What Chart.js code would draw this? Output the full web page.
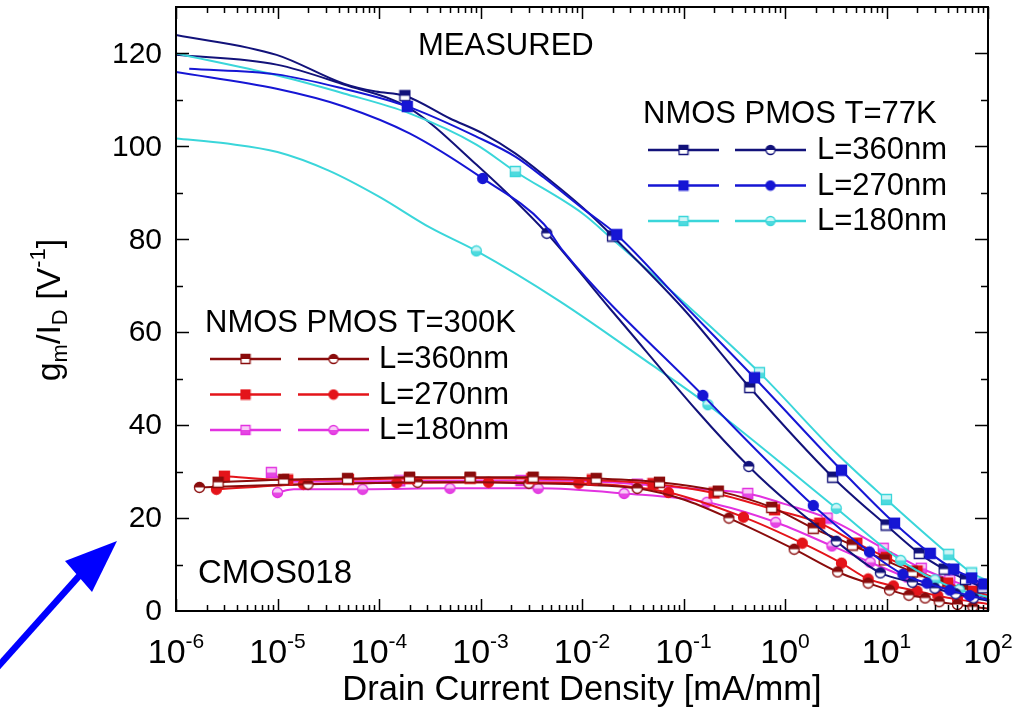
<!DOCTYPE html>
<html><head><meta charset="utf-8">
<script src="https://cdn.jsdelivr.net/npm/chart.js@4.4.1/dist/chart.umd.min.js"></script>
<style>html,body{margin:0;padding:0;background:#fff;}#wrap{width:1020px;height:718px;position:relative;}</style>
</head><body><div id="wrap"><canvas id="c" width="1020" height="718"></canvas></div>
<script>
// ---------- data ----------
// 77 K, NMOS
const n77_360_x = [1e-6, 9.8e-6, 4.5e-5, 9.3e-5, 1.8e-4, 5.0e-4, 1.05e-3, 2.2e-3, 4.2e-3, 0.0102, 0.020, 0.10, 0.45, 2.95, 9.9, 21, 37, 60, 89, 100];
const n77_360_y = [124, 119.7, 113.5, 111.8, 110.9, 106, 102.8, 98.5, 93.8, 86.8, 80.7, 65, 48.1, 28.8, 18.5, 12.4, 9.0, 6.8, 5.0, 4.5];
const n77_360_m = [4, 10, 12, 13, 14, 15, 16, 17, 18];
const n77_270_x = [1.35e-6, 9.8e-6, 4.5e-5, 1.9e-4, 9.1e-4, 2.2e-3, 4.2e-3, 0.0102, 0.022, 0.10, 0.50, 3.6, 12, 27, 46, 69, 91, 100];
const n77_270_y = [116.7, 115.5, 112.4, 108.6, 102.1, 97.8, 93.3, 86.6, 81, 66, 50.2, 30.3, 18.9, 12.4, 9.0, 7.1, 5.8, 5.5];
const n77_270_m = [3, 8, 10, 11, 12, 13, 14, 15, 16];
const n77_180_x = [1e-6, 9.8e-6, 4.5e-5, 2.0e-4, 9.1e-4, 2.2e-3, 0.0102, 0.020, 0.10, 0.56, 3.2, 10, 41, 69, 100];
const n77_180_y = [120, 115.3, 111.4, 107.1, 100.4, 94.6, 85.5, 80.0, 66.5, 51.3, 34, 24.0, 12.2, 8.2, 6.5];
const n77_180_m = [5, 9, 11, 12, 13];
// 77 K, PMOS
const p77_360_x = [1e-6, 9.8e-6, 4.5e-5, 2.0e-4, 9.1e-4, 4.5e-3, 0.019, 0.44, 3.2, 8.7, 18, 30, 48, 72, 100];
const p77_360_y = [119.7, 117.6, 113.3, 108.2, 96.1, 81.3, 65, 31.1, 15.0, 8.2, 6.2, 4.9, 3.7, 2.8, 2.2];
const p77_360_m = [5, 7, 8, 9, 10, 11, 12, 13];
const p77_270_x = [1e-6, 9.8e-6, 4.5e-5, 2.0e-4, 1.05e-3, 4.2e-3, 6.5e-3, 0.155, 1.9, 6.8, 14.5, 25, 42, 66, 100];
const p77_270_y = [116, 112.4, 108.6, 102.8, 93.1, 83.3, 77.5, 46.4, 22.7, 12.7, 7.9, 6.0, 4.5, 3.3, 2.5];
const p77_270_m = [4, 7, 8, 9, 10, 11, 12, 13];
const p77_180_x = [1e-6, 3.2e-6, 1.0e-5, 3.2e-5, 1.0e-4, 3.2e-4, 9.1e-4, 6.0e-3, 0.050, 0.174, 3.2, 13.8, 30, 52, 100];
const p77_180_y = [101.7, 100.6, 98.8, 94.8, 89.2, 82.5, 77.5, 66.7, 52.8, 44.4, 22.1, 10.9, 6.7, 4.6, 3.0];
const p77_180_m = [6, 9, 10, 11, 12, 13];
// 300 K, NMOS
const n300_360_x = [2.6e-6, 1.15e-5, 4.9e-5, 2.0e-4, 7.9e-4, 3.3e-3, 0.0138, 0.058, 0.22, 0.74, 1.9, 4.6, 9.5, 18, 32, 56, 100];
const n300_360_y = [27.7, 28.3, 28.5, 28.8, 28.8, 28.8, 28.5, 27.7, 25.8, 22.3, 17.8, 14.2, 11.0, 8.4, 6.2, 4.5, 2.8];
const n300_360_m = [0, 1, 2, 3, 4, 5, 6, 7, 8, 9, 10, 11, 12, 13, 14, 15];
const n300_270_x = [3.0e-6, 1.26e-5, 5.0e-5, 2.0e-4, 7.9e-4, 3.2e-3, 0.0126, 0.050, 0.20, 0.79, 2.2, 5.1, 10, 20, 40, 71, 100];
const n300_270_y = [29.0, 28.2, 28.3, 28.5, 28.6, 28.5, 28.2, 27.4, 25.4, 21.8, 18.9, 14.6, 11.5, 8.6, 6.0, 4.2, 3.4];
const n300_270_m = [0, 1, 2, 3, 4, 5, 6, 7, 8, 9, 10, 11, 12, 13, 14, 15];
const n300_180_x = [8.7e-6, 1.26e-5, 1.0e-4, 1.6e-4, 1.0e-3, 2.5e-3, 0.01, 0.035, 0.126, 0.43, 1.0, 2.6, 9.3, 22, 42, 71, 100];
const n300_180_y = [29.8, 27.8, 27.9, 28.0, 28.1, 28.1, 28.0, 27.3, 26.3, 25.3, 23.0, 20.0, 13.5, 9.2, 6.7, 5.0, 4.2];
const n300_180_m = [0, 3, 5, 7, 9, 11, 12, 13, 14, 15];
// 300 K, PMOS
const p300_360_x = [1.7e-6, 6.3e-6, 2.0e-5, 6.3e-5, 2.4e-4, 1.0e-3, 3.0e-3, 0.01, 0.035, 0.1, 0.28, 1.23, 3.3, 6.6, 10.7, 16.6, 24, 33, 50, 71, 100];
const p300_360_y = [26.6, 27.0, 27.3, 27.5, 27.7, 27.7, 27.5, 27.2, 26.4, 24.0, 20.0, 13.3, 8.4, 6.0, 4.5, 3.4, 2.8, 2.0, 1.4, 0.9, 0.5];
const p300_360_m = [0, 2, 4, 6, 8, 10, 11, 12, 13, 14, 15, 16, 17, 18, 19];
const p300_270_x = [2.5e-6, 1.8e-5, 1.5e-4, 1.2e-3, 9.3e-3, 0.071, 0.39, 1.48, 3.6, 6.6, 11.7, 20, 32, 50, 100];
const p300_270_y = [26.2, 27.3, 27.6, 27.7, 27.5, 25.5, 20.2, 14.6, 10.3, 6.9, 5.4, 4.3, 3.3, 2.5, 1.5];
const p300_270_m = [0, 1, 2, 3, 4, 5, 6, 7, 8, 9, 10, 11, 12, 13];
const p300_180_x = [1.0e-5, 1.45e-5, 6.9e-5, 5.0e-4, 3.7e-3, 0.026, 0.17, 0.81, 2.9, 6.9, 15.8, 32, 56, 100];
const p300_180_y = [25.5, 26.2, 26.2, 26.4, 26.4, 25.3, 23.4, 19.1, 14.0, 10.5, 7.3, 5.4, 4.0, 3.0];
const p300_180_m = [0, 2, 3, 4, 5, 6, 7, 8, 9, 10, 11, 12];

// axes
const xMin = 1e-6, xMax = 1e2;
const yMin = 0, yMax = 130;
const yTickLabels = [0, 20, 40, 60, 80, 100, 120];
const xTickExponents = [-6, -5, -4, -3, -2, -1, 0, 1, 2];
const lengthLabels = ['L=360nm', 'L=270nm', 'L=180nm'];

// ---------- styles ----------
const COL = {navy:'#12127a', blue:'#1616d4', cyan:'#3ad6da', dred:'#8a0c0c', red:'#e4141a', mag:'#e232e0'};
const FONT = '"Liberation Sans", Arial, sans-serif';

function tint(hex, f){
  const n = parseInt(hex.slice(1),16);
  const r=(n>>16)&255,g=(n>>8)&255,b=n&255;
  const m=v=>Math.round(v+(255-v)*f);
  return `rgb(${m(r)},${m(g)},${m(b)})`;
}
function makeMarker(shape, color, kind, s){
  const c = document.createElement('canvas');
  c.width = c.height = s + 2;
  const g = c.getContext('2d');
  const h = (s + 2) / 2;
  const path = () => { g.beginPath(); if (shape === 'sq') g.rect(1.5, 1.5, s - 1, s - 1); else g.arc(h, h, (s - 1) / 2, 0, Math.PI * 2); };
  path();
  g.fillStyle = kind === 'fill' ? color : (kind === 'light' ? tint(color, 0.75) : '#ffffff');
  g.fill();
  if (kind === 'half' || kind === 'light') {
    g.save(); path(); g.clip();
    g.fillStyle = kind === 'half' ? color : tint(color, 0.1);
    if (kind === 'half') g.fillRect(0, 0, s + 2, h); else g.fillRect(0, h, s + 2, h);
    g.restore();
  }
  path(); g.lineWidth = 1.3; g.strokeStyle = color; g.stroke();
  return c;
}

const series = [
  // order: first is drawn on top
  {x:n77_270_x, y:n77_270_y, m:n77_270_m, col:COL.blue, shape:'sq', kind:'fill'},
  {x:n77_360_x, y:n77_360_y, m:n77_360_m, col:COL.navy, shape:'sq', kind:'half'},
  {x:n77_180_x, y:n77_180_y, m:n77_180_m, col:COL.cyan, shape:'sq', kind:'light'},
  {x:p77_270_x, y:p77_270_y, m:p77_270_m, col:COL.blue, shape:'ci', kind:'fill'},
  {x:p77_360_x, y:p77_360_y, m:p77_360_m, col:COL.navy, shape:'ci', kind:'half'},
  {x:p77_180_x, y:p77_180_y, m:p77_180_m, col:COL.cyan, shape:'ci', kind:'light'},
  {x:n300_360_x, y:n300_360_y, m:n300_360_m, col:COL.dred, shape:'sq', kind:'half'},
  {x:n300_270_x, y:n300_270_y, m:n300_270_m, col:COL.red, shape:'sq', kind:'fill'},
  {x:p300_360_x, y:p300_360_y, m:p300_360_m, col:COL.dred, shape:'ci', kind:'half'},
  {x:p300_270_x, y:p300_270_y, m:p300_270_m, col:COL.red, shape:'ci', kind:'fill'},
  {x:n300_180_x, y:n300_180_y, m:n300_180_m, col:COL.mag, shape:'sq', kind:'light'},
  {x:p300_180_x, y:p300_180_y, m:p300_180_m, col:COL.mag, shape:'ci', kind:'light'},
];

const datasets = series.map(s => {
  const img = makeMarker(s.shape, s.col, s.kind, s.shape === 'sq' ? 11 : 11);
  return {
    data: s.x.map((v, i) => ({x: v, y: s.y[i]})),
    borderColor: s.col,
    backgroundColor: s.col,
    borderWidth: 2,
    fill: false,
    cubicInterpolationMode: 'monotone',
    pointStyle: img,
    pointRadius: ctx => s.m.includes(ctx.dataIndex) ? 5 : 0,
    pointHoverRadius: 0,
  };
});

function legMarker(shape, col, kind){ return makeMarker(shape, col, kind, 10); }

function supText(ctx, parts, x, y){
  let cx = x;
  for (const p of parts){
    ctx.font = p.size + 'px ' + FONT;
    ctx.fillText(p.t, cx, y + (p.dy || 0));
    cx += ctx.measureText(p.t).width;
  }
  return cx - x;
}
function partsWidth(ctx, parts){
  let w = 0;
  for (const p of parts){ ctx.font = p.size + 'px ' + FONT; w += ctx.measureText(p.t).width; }
  return w;
}

const deco = {
  id: 'deco',
  afterDraw(chart){
    const ctx = chart.ctx;
    const a = chart.chartArea;
    const xs = chart.scales.x, ys = chart.scales.y;
    ctx.save();
    ctx.strokeStyle = '#000'; ctx.fillStyle = '#000';
    // frame
    ctx.lineWidth = 2;
    ctx.strokeRect(a.left, a.top, a.right - a.left, a.bottom - a.top);
    // y ticks
    ctx.lineWidth = 1.5;
    for (let v = yMin + 10; v < yMax; v += 10){
      const py = Math.round(ys.getPixelForValue(v)) + 0.5;
      const len = (v % 20 === 0) ? 13 : 7;
      ctx.beginPath();
      ctx.moveTo(a.left, py); ctx.lineTo(a.left + len, py);
      ctx.moveTo(a.right, py); ctx.lineTo(a.right - len, py);
      ctx.stroke();
    }
    // x ticks
    for (let e = -6; e <= 2; e++){
      for (let k = 1; k <= 9; k++){
        const v = k * Math.pow(10, e);
        if (v < xMin * 0.999 || v > xMax * 1.001) continue;
        const px = Math.round(xs.getPixelForValue(v)) + 0.5;
        const len = k === 1 ? 12 : 6;
        ctx.beginPath();
        ctx.moveTo(px, a.bottom); ctx.lineTo(px, a.bottom - len);
        ctx.moveTo(px, a.top); ctx.lineTo(px, a.top + len);
        ctx.stroke();
      }
    }
    // y tick labels
    ctx.textBaseline = 'middle'; ctx.textAlign = 'right';
    ctx.font = '30px ' + FONT;
    for (const v of yTickLabels){
      ctx.fillText(String(v), a.left - 14, ys.getPixelForValue(v) + 1);
    }
    // x tick labels
    ctx.textBaseline = 'alphabetic'; ctx.textAlign = 'left';
    for (const e of xTickExponents){
      const px = xs.getPixelForValue(Math.pow(10, e));
      const parts = [{t:'10', size:34}, {t:String(e), size:21, dy:-15}];
      const w = partsWidth(ctx, parts);
      supText(ctx, parts, px - w / 2, 663);
    }
    // x title
    ctx.font = '34.5px ' + FONT; ctx.textAlign = 'center';
    ctx.fillText('Drain Current Density [mA/mm]', (a.left + a.right) / 2, 700);
    // y title
    ctx.save();
    ctx.translate(60, 310); ctx.rotate(-Math.PI / 2);
    ctx.textAlign = 'left';
    const yparts = [{t:'g', size:34}, {t:'m', size:22, dy:7}, {t:'/I', size:34}, {t:'D', size:22, dy:7}, {t:' [V', size:34}, {t:'-1', size:22, dy:-15}, {t:']', size:34}];
    const yw = partsWidth(ctx, yparts);
    supText(ctx, yparts, -yw / 2, 0);
    ctx.restore();

    // annotations
    ctx.textAlign = 'left'; ctx.font = '31px ' + FONT;
    ctx.fillText('MEASURED', 418, 55);
    ctx.fillText('NMOS PMOS T=77K', 643, 123);
    ctx.fillText('NMOS PMOS T=300K', 205, 332);
    ctx.font = '33px ' + FONT;
    ctx.fillText('CMOS018', 198, 583);

    // legends
    const legend = (rows, x1, x2, x3, y0, dy) => {
      rows.forEach((r, i) => {
        const y = y0 + i * dy;
        ctx.lineWidth = 2.5;
        ctx.strokeStyle = r.col;
        ctx.beginPath();
        ctx.moveTo(x1, y); ctx.lineTo(x1 + 71, y);
        ctx.moveTo(x2, y); ctx.lineTo(x2 + 71, y);
        ctx.stroke();
        const sq = legMarker('sq', r.col, r.kind), ci = legMarker('ci', r.col, r.kind);
        ctx.drawImage(sq, x1 + 35.5 - sq.width / 2, y - sq.height / 2);
        ctx.drawImage(ci, x2 + 35.5 - ci.width / 2, y - ci.height / 2);
        ctx.fillStyle = '#000';
        ctx.font = '31px ' + FONT;
        ctx.fillText(lengthLabels[i], x3, y + 9);
      });
    };
    legend([{col:COL.navy, kind:'half'}, {col:COL.blue, kind:'fill'}, {col:COL.cyan, kind:'light'}], 648, 735, 817, 150, 35.5);
    legend([{col:COL.dred, kind:'half'}, {col:COL.red, kind:'fill'}, {col:COL.mag, kind:'light'}], 210, 298, 379, 359, 35.5);

    // blue arrow
    ctx.strokeStyle = '#0000ff'; ctx.fillStyle = '#0000ff';
    ctx.lineWidth = 6.5; ctx.lineCap = 'butt';
    ctx.beginPath(); ctx.moveTo(-5, 670); ctx.lineTo(88, 566); ctx.stroke();
    ctx.beginPath(); ctx.moveTo(117, 541); ctx.lineTo(65, 561); ctx.lineTo(92, 592); ctx.closePath(); ctx.fill();
    ctx.restore();
  }
};

new Chart(document.getElementById('c'), {
  type: 'line',
  data: {datasets},
  options: {
    responsive: false,
    animation: false,
    devicePixelRatio: 1,
    layout: {padding: {left: 176, right: 32, top: 7, bottom: 107}},
    plugins: {legend: {display: false}, tooltip: {enabled: false}},
    events: [],
    scales: {
      x: {type: 'logarithmic', min: xMin, max: xMax, display: false},
      y: {type: 'linear', min: yMin, max: yMax, display: false}
    }
  },
  plugins: [deco]
});
</script></body></html>
